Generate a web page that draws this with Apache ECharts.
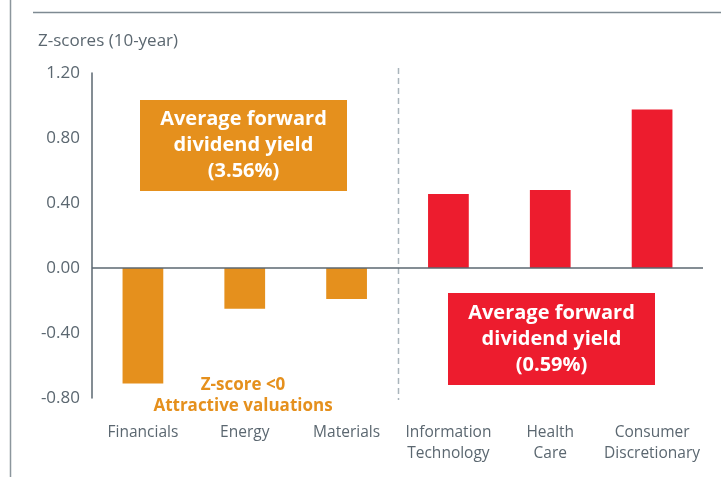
<!DOCTYPE html>
<html>
<head>
<meta charset="utf-8">
<script src="https://cdn.jsdelivr.net/npm/echarts@6/dist/echarts.min.js"></script>
<style>
  html, body { margin: 0; padding: 0; background: #fff; }
  #chart { width: 721px; height: 477px; }
</style>
</head>
<body>
<div id="chart"></div>
<script>
// sectors and their 10-year z-scores
const sectors = ["Financials", "Energy", "Materials", "Information\nTechnology", "Health\nCare", "Consumer\nDiscretionary"];
const zScores = [-0.71, -0.25, -0.19, 0.455, 0.48, 0.975];
const yTicks = { min: -0.8, max: 1.2, interval: 0.4 };
const highYieldCount = 3; // first three sectors are the high-yield group

const ORANGE = "#E5901D";
const RED = "#ED1C2E";
const GREY = "#5B6770";
const FONT = "Open Sans";

let chart = echarts.init(document.getElementById("chart"));

chart.setOption({
  animation: false,
  textStyle: { fontFamily: FONT },
  title: {
    text: "Z-scores (10-year)",
    left: 33,
    top: 28,
    textStyle: { fontSize: 17, fontWeight: "normal", color: GREY, fontFamily: FONT },
  },
  grid: { left: 92, right: 18, top: 73, bottom: 79 },
  xAxis: {
    type: "category",
    data: sectors,
    axisLine: { show: false },
    axisTick: { show: false },
    axisLabel: { color: GREY, fontSize: 15.5, lineHeight: 21, margin: 24, interval: 0 },
  },
  yAxis: {
    type: "value",
    min: yTicks.min,
    max: yTicks.max,
    interval: yTicks.interval,
    axisLine: { show: true, lineStyle: { color: GREY, width: 1.5 } },
    axisTick: { show: false },
    splitLine: { show: false },
    axisLabel: {
      color: GREY,
      fontSize: 17,
      margin: 12,
      formatter: (v) => v.toFixed(2),
    },
  },
  series: [
    {
      type: "bar",
      data: zScores,
      barWidth: "40%",
      itemStyle: {
        color: (p) => (p.dataIndex < highYieldCount ? ORANGE : RED),
      },
      markLine: {
        silent: true,
        symbol: "none",
        label: { show: false },
        lineStyle: { color: GREY, type: "solid", width: 1.5 },
        data: [{ yAxis: 0 }],
      },
    },
  ],
});

// divider between the two groups, and annotation boxes
let xa = chart.convertToPixel({ xAxisIndex: 0 }, sectors[highYieldCount - 1]);
let xb = chart.convertToPixel({ xAxisIndex: 0 }, sectors[highYieldCount]);
let divX = Math.round((xa + xb) / 2) + 0.5;
let yTop = chart.convertToPixel({ yAxisIndex: 0 }, yTicks.max);
let yBot = chart.convertToPixel({ yAxisIndex: 0 }, yTicks.min);

function box(x, y, w, h, color, lines) {
  return {
    type: "group",
    children: [
      { type: "rect", shape: { x: x, y: y, width: w, height: h }, style: { fill: color } },
      {
        type: "text",
        x: x + w / 2,
        y: y + h / 2,
        style: {
          text: lines.join("\n"),
          fill: "#fff",
          font: "bold 20px '" + FONT + "'",
          lineHeight: 26,
          align: "center",
          verticalAlign: "middle",
        },
      },
    ],
  };
}

chart.setOption({
  graphic: [
    { type: "line", shape: { x1: 10.5, y1: 0, x2: 10.5, y2: 477 }, style: { stroke: "#8C969D", lineWidth: 1.5 } },
    { type: "line", shape: { x1: 33, y1: 12.5, x2: 721, y2: 12.5 }, style: { stroke: "#7E8A92", lineWidth: 1.5 } },
    {
      type: "line",
      shape: { x1: divX, y1: yTop - 5, x2: divX, y2: yBot + 2 },
      style: { stroke: "#A9B4BB", lineWidth: 1.5, lineDash: [6, 4] },
    },
    box(140, 100, 207, 91, ORANGE, ["Average forward", "dividend yield", "(3.56%)"]),
    box(448, 293, 207, 92, RED, ["Average forward", "dividend yield", "(0.59%)"]),
    {
      type: "text",
      x: 243,
      y: 396,
      style: {
        text: "Z-score <0\nAttractive valuations",
        fill: ORANGE,
        font: "bold 17px '" + FONT + "'",
        lineHeight: 21,
        align: "center",
        verticalAlign: "middle",
      },
    },
  ],
});
</script>
</body>
</html>
